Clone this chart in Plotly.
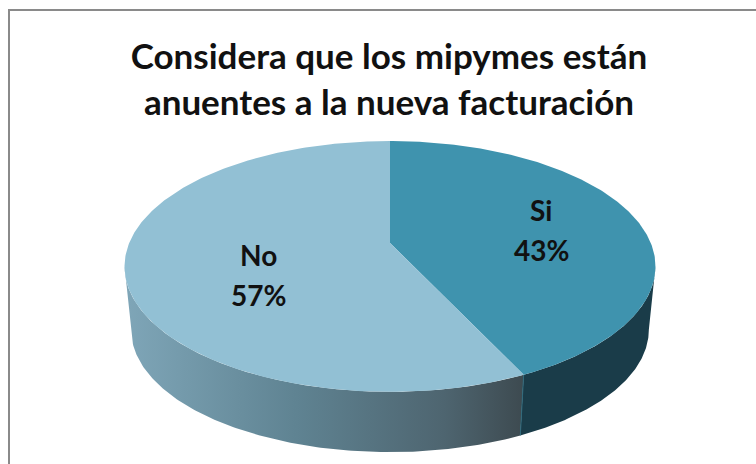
"""3D style pie: mipymes y la nueva facturacion"""

import numpy as np
import plotly.graph_objects as go

TITLE_LINES = ["Considera que los mipymes están", "anuentes a la nueva facturación"]
CATEGORIES = ["Si", "No"]
VALUES = [43, 57]
TOP_COLORS = ["#3f93ae", "#92c0d4"]
LABEL_POS = [(541, 230), (258, 275)]

FONT = "Lato"
WIDTH, HEIGHT = 756, 464

# Pie geometry in page pixels, with a little perspective on the disc
CX, CY = 390, 243
AX, AY = 260.8, 121
PERSP = 0.187
DEPTH_Y = 64
BOTTOM_SCALE = 0.975


def project(angle, scale=1.0, drop=0.0):
    """Angle is clockwise from 12 o'clock, in radians"""
    d = 1 + PERSP * np.cos(angle)
    return (
        CX + scale * AX * np.sin(angle) / d,
        CY + drop - scale * AY * np.cos(angle) / d,
    )


def arc(start, end, n=160):
    return np.linspace(start, end, n)


def wall(start, end):
    a = arc(start, end)
    x0, y0 = project(a)
    x1, y1 = project(a[::-1], BOTTOM_SCALE, DEPTH_Y)
    return np.r_[x0, x1], np.r_[y0, y1]


total = sum(VALUES)
split = 2 * np.pi * VALUES[0] / total
# where the disc outline is widest on screen
edge = np.arccos(-PERSP)

fig = go.Figure()

# Side walls
x, y = wall(edge, split)
fig.add_trace(go.Scatter(
    x=x, y=y, mode="lines", line=dict(width=0), fill="toself",
    fillcolor="#1a3c49", hoverinfo="skip", showlegend=False,
))
x, y = wall(split, 2 * np.pi - edge)
fig.add_trace(go.Scatter(
    x=x, y=y, mode="lines", line=dict(width=0), fill="toself",
    fillgradient=dict(
        type="horizontal",
        colorscale=[[0, "#7fa6b8"], [0.43, "#5f8392"], [0.8, "#4e6570"], [1, "#3d4a50"]],
    ),
    hoverinfo="skip", showlegend=False,
))

# Thin seam between the two walls
seam_top = project(split)
seam_bottom = project(split, BOTTOM_SCALE, DEPTH_Y)
fig.add_trace(go.Scatter(
    x=[seam_top[0], seam_bottom[0]], y=[seam_top[1], seam_bottom[1]], mode="lines",
    line=dict(width=1, color="#2f6a7d"), hoverinfo="skip", showlegend=False,
))

# Top face of the slices
angle = 0
for name, value, color in zip(CATEGORIES, VALUES, TOP_COLORS):
    sweep = 2 * np.pi * value / total
    px, py = project(arc(angle, angle + sweep, 240))
    fig.add_trace(go.Scatter(
        x=np.r_[CX, px, CX], y=np.r_[CY, py, CY], mode="lines",
        line=dict(width=0), fill="toself", fillcolor=color,
        name=name, showlegend=False,
    ))
    angle += sweep

# Slice labels
for name, value, (lx, ly) in zip(CATEGORIES, VALUES, LABEL_POS):
    pct = round(100 * value / total)
    for text, dy in ((name, -20), (f"{pct}%", 20)):
        fig.add_annotation(
            x=lx, y=ly + dy, text=f"<b>{text}</b>", showarrow=False,
            font=dict(family=FONT, size=28, color="#111111"),
        )

# Chart frame, runs off the right and bottom of the page
fig.add_shape(
    type="rect", x0=9, y0=10, x1=WIDTH + 20, y1=HEIGHT + 20,
    line=dict(color="#8a8a8a", width=2), layer="below",
)

fig.update_xaxes(range=[0, WIDTH], visible=False)
fig.update_yaxes(range=[HEIGHT, 0], visible=False)
fig.update_layout(
    title=dict(
        text="<b>" + "<br>".join(TITLE_LINES) + "</b>",
        x=389 / WIDTH, xanchor="center", y=1 - 69 / HEIGHT, yanchor="middle",
        font=dict(family=FONT, size=35, color="#111111"),
    ),
    width=WIDTH,
    height=HEIGHT,
    margin=dict(l=0, r=0, t=0, b=0),
    paper_bgcolor="white",
    plot_bgcolor="white",
    showlegend=False,
)
fig.write_html(
    "out.html",
    config=dict(displayModeBar=False),
    post_script="document.body.style.margin = '0';",
)
